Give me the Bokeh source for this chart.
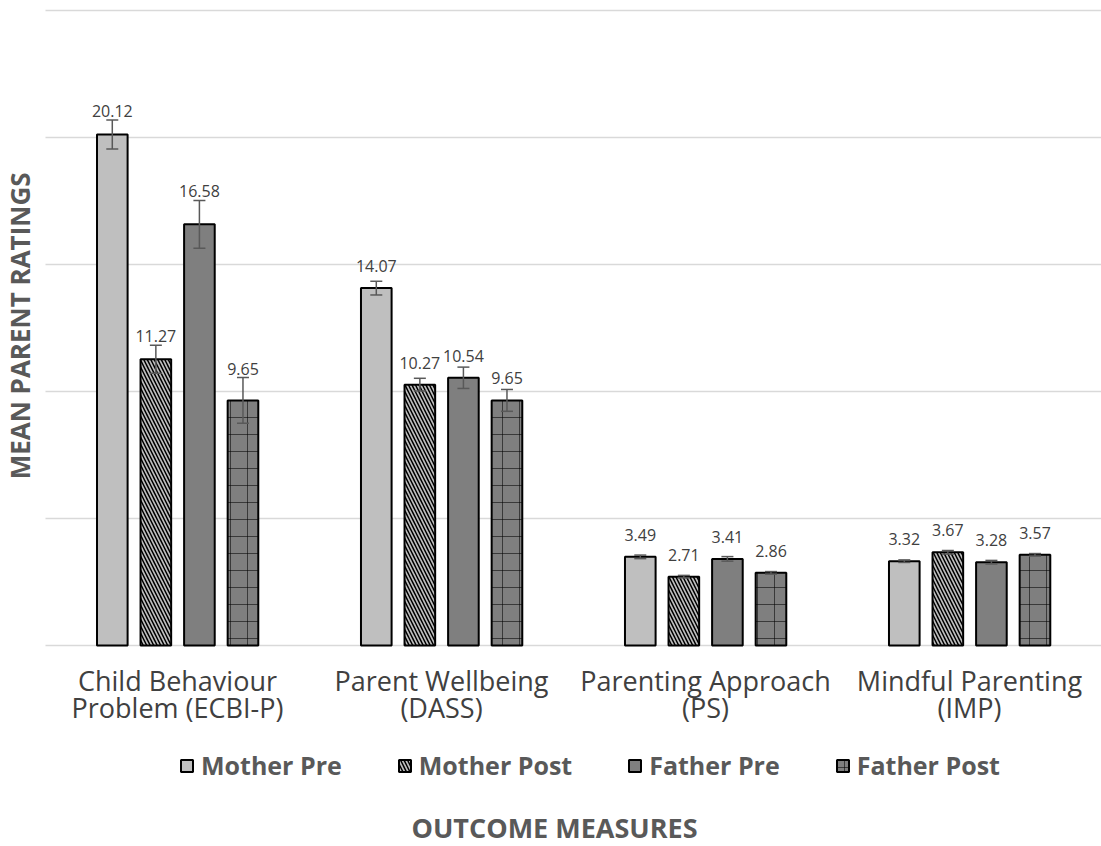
import math
from bokeh.plotting import figure
from bokeh.models import (ColumnDataSource, Range1d, Whisker, TeeHead, LabelSet,
                          Legend, LegendItem, Label)
from bokeh.core.properties import value
from bokeh.transform import dodge
from bokeh.embed import file_html
from bokeh.resources import INLINE

categories = ["Child Behaviour\nProblem (ECBI-P)", "Parent Wellbeing\n(DASS)",
              "Parenting Approach\n(PS)", "Mindful Parenting\n(IMP)"]
series_names = ["Mother Pre", "Mother Post", "Father Pre", "Father Post"]
mother_pre = [20.12, 14.07, 3.49, 3.32]
mother_post = [11.27, 10.27, 2.71, 3.67]
father_pre = [16.58, 10.54, 3.41, 3.28]
father_post = [9.65, 9.65, 2.86, 3.57]
mother_pre_err = [0.57, 0.27, 0.07, 0.05]
mother_post_err = [0.55, 0.25, 0.05, 0.07]
father_pre_err = [0.94, 0.42, 0.09, 0.07]
father_post_err = [0.90, 0.43, 0.05, 0.05]
y_ticks = [0, 5, 10, 15, 20, 25]
x_title = "OUTCOME MEASURES"
y_title = "MEAN PARENT  RATINGS"

W, H = 1101, 846
LEFT, TOP, BASE = 45, 10, 645          # plot-area edges in canvas pixels
n_cat = len(categories)
px_per_cat = (W - LEFT) / n_cat
px_per_unit = (BASE - TOP) / y_ticks[-1]

values = [mother_pre, mother_post, father_pre, father_post]
errors = [mother_pre_err, mother_post_err, father_pre_err, father_post_err]
offsets = [-0.247, -0.082, 0.083, 0.248]
styles = [
    dict(fill_color="#BFBFBF"),
    dict(fill_color="#BFBFBF", hatch_pattern="\\", hatch_color="black", hatch_scale=7, hatch_weight=1.5),
    dict(fill_color="#7F7F7F"),
    dict(fill_color="#7F7F7F", hatch_pattern="+", hatch_color="black", hatch_scale=17, hatch_weight=1, hatch_alpha=0.55),
]

FONT = "Open Sans"

p = figure(width=W, height=H,
           x_range=Range1d(-LEFT / px_per_cat, n_cat),
           y_range=Range1d(-(H - BASE) / px_per_unit, BASE / px_per_unit),
           output_backend="svg", toolbar_location=None, min_border=0)
p.outline_line_color = None
p.grid.visible = False
p.axis.visible = False
p.background_fill_color = "white"
p.border_fill_color = "white"

xc = [i + 0.5 for i in range(n_cat)]

# horizontal gridlines
p.segment(x0=[0] * len(y_ticks), x1=[n_cat] * len(y_ticks), y0=y_ticks, y1=y_ticks,
          line_color="#D9D9D9", line_width=1.5)

items = []
for name, vals, errs, off, st in zip(series_names, values, errors, offsets, styles):
    upper = [v + e for v, e in zip(vals, errs)]
    lower = [v - e for v, e in zip(vals, errs)]
    label_y = [max(v + 16 / px_per_unit, u + 3 / px_per_unit) for v, u in zip(vals, upper)]
    src = ColumnDataSource(dict(xc=xc, val=vals, upper=upper, lower=lower, ly=label_y,
                                label=["%.2f" % v for v in vals]))
    r = p.vbar(x=dodge("xc", off), top="val", width=0.116, source=src,
               line_color="black", line_width=2, **st)
    items.append(LegendItem(label=name, renderers=[r]))
    w = Whisker(source=src, base=dodge("xc", off), upper="upper", lower="lower",
                line_color="#595959", line_width=1.5, level="overlay",
                upper_head=TeeHead(size=12, line_color="#595959", line_width=1.5),
                lower_head=TeeHead(size=12, line_color="#595959", line_width=1.5))
    p.add_layout(w)
    p.add_layout(LabelSet(x=dodge("xc", off), y="ly", text="label", source=src,
                          text_align="center", text_baseline="alphabetic", level="overlay",
                          text_font=value(FONT), text_font_size="16px", text_color="#404040"))

# category labels (two lines each)
cat_src = ColumnDataSource(dict(xc=xc, y0=[0] * n_cat,
                                l1=[c.split("\n")[0] for c in categories],
                                l2=[c.split("\n")[1] for c in categories]))
for col, off in (("l1", -45), ("l2", -72.5)):
    p.add_layout(LabelSet(x="xc", y="y0", text=col, source=cat_src, y_offset=off,
                          text_align="center", text_baseline="alphabetic",
                          text_font=value(FONT), text_font_size="27px", text_color="#404040"))

legend = Legend(items=items, orientation="horizontal", location=(179, 846 - 782),
                glyph_width=15, glyph_height=15, label_standoff=7, spacing=55,
                label_text_font=FONT, label_text_font_size="25px", label_text_font_style="bold",
                label_text_color="#595959", border_line_color=None, background_fill_alpha=0,
                padding=0, margin=0)
p.add_layout(legend)

p.add_layout(Label(x=554, y=19, x_units="screen", y_units="screen", text=x_title,
                   text_align="center", text_baseline="alphabetic", text_font=FONT,
                   text_font_size="27px", text_font_style="bold", text_color="#595959"))
p.add_layout(Label(x=19, y=H - 322, x_units="screen", y_units="screen", text=y_title,
                   angle=math.pi / 2, text_align="center", text_baseline="alphabetic",
                   text_font=FONT, text_font_size="26px", text_font_style="bold",
                   text_color="#595959"))

open("out.html", "w").write(file_html(p, INLINE))
